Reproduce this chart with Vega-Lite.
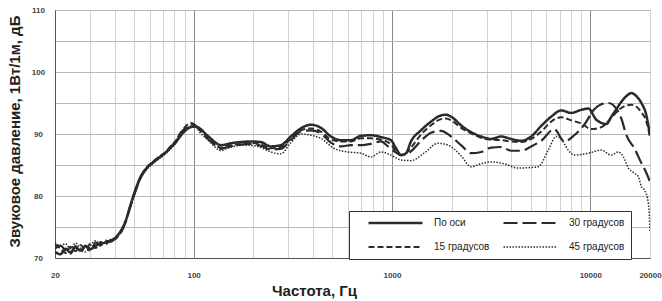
{
  "$schema": "https://vega.github.io/schema/vega-lite/v6.json",
  "width": 595,
  "height": 248,
  "autosize": {"type": "none"},
  "padding": {"left": 55, "top": 10, "right": 12, "bottom": 43},
  "background": "white",
  "config": {"font": "Liberation Sans", "view": {"stroke": "#555", "strokeWidth": 1}},
  "datasets": {
    "curves": [
      {"f":20,"s":"По оси","db":71.0},{"f":21.3,"s":"По оси","db":70.6},{"f":22.6,"s":"По оси","db":71.5},{"f":23.9,"s":"По оси","db":70.9},{"f":25.4,"s":"По оси","db":71.7},{"f":26.9,"s":"По оси","db":71.2},{"f":28.5,"s":"По оси","db":71.9},{"f":30.2,"s":"По оси","db":71.4},{"f":32,"s":"По оси","db":72.0},{"f":33.9,"s":"По оси","db":72.3},{"f":35.9,"s":"По оси","db":72.5},{"f":38.1,"s":"По оси","db":72.8},{"f":40.4,"s":"По оси","db":73.3},{"f":42.8,"s":"По оси","db":74.3},{"f":45.4,"s":"По оси","db":76.0},{"f":48.1,"s":"По оси","db":78.6},{"f":50.9,"s":"По оси","db":81.0},{"f":54,"s":"По оси","db":83.1},{"f":57.2,"s":"По оси","db":84.3},{"f":60.6,"s":"По оси","db":85.1},{"f":64.3,"s":"По оси","db":85.8},{"f":68.1,"s":"По оси","db":86.4},{"f":72.2,"s":"По оси","db":87.0},{"f":76.5,"s":"По оси","db":87.8},{"f":81.1,"s":"По оси","db":88.6},{"f":85.9,"s":"По оси","db":89.7},{"f":91.1,"s":"По оси","db":90.6},{"f":96.6,"s":"По оси","db":91.1},{"f":102.4,"s":"По оси","db":91.2},{"f":108.5,"s":"По оси","db":90.8},{"f":115,"s":"По оси","db":90.0},{"f":121.9,"s":"По оси","db":89.3},{"f":129.1,"s":"По оси","db":88.6},{"f":136.9,"s":"По оси","db":88.2},{"f":145.1,"s":"По оси","db":88.3},{"f":153.7,"s":"По оси","db":88.5},{"f":172.7,"s":"По оси","db":88.7},{"f":194,"s":"По оси","db":88.8},{"f":218,"s":"По оси","db":88.7},{"f":245,"s":"По оси","db":88.0},{"f":275,"s":"По оси","db":88.2},{"f":309,"s":"По оси","db":89.6},{"f":347,"s":"По оси","db":90.9},{"f":390,"s":"По оси","db":91.5},{"f":438,"s":"По оси","db":91.0},{"f":492,"s":"По оси","db":89.6},{"f":553,"s":"По оси","db":89.0},{"f":621,"s":"По оси","db":89.0},{"f":697,"s":"По оси","db":89.7},{"f":783,"s":"По оси","db":89.8},{"f":880,"s":"По оси","db":89.5},{"f":988,"s":"По оси","db":89.0},{"f":1048,"s":"По оси","db":87.7},{"f":1110,"s":"По оси","db":86.6},{"f":1177,"s":"По оси","db":86.9},{"f":1247,"s":"По оси","db":88.8},{"f":1401,"s":"По оси","db":90.6},{"f":1574,"s":"По оси","db":92.0},{"f":1768,"s":"По оси","db":93.0},{"f":1874,"s":"По оси","db":93.1},{"f":1986,"s":"По оси","db":92.8},{"f":2231,"s":"По оси","db":91.4},{"f":2506,"s":"По оси","db":90.3},{"f":2815,"s":"По оси","db":89.6},{"f":3162,"s":"По оси","db":89.2},{"f":3552,"s":"По оси","db":89.6},{"f":3990,"s":"По оси","db":89.2},{"f":4483,"s":"По оси","db":88.9},{"f":5035,"s":"По оси","db":89.6},{"f":5656,"s":"По оси","db":91.3},{"f":6353,"s":"По оси","db":92.8},{"f":7137,"s":"По оси","db":93.8},{"f":8017,"s":"По оси","db":93.4},{"f":9006,"s":"По оси","db":93.9},{"f":9770,"s":"По оси","db":94.1},{"f":10722,"s":"По оси","db":92.3},{"f":11365,"s":"По оси","db":91.8},{"f":12043,"s":"По оси","db":91.6},{"f":12766,"s":"По оси","db":92.8},{"f":13530,"s":"По оси","db":94.0},{"f":14340,"s":"По оси","db":95.2},{"f":15196,"s":"По оси","db":96.1},{"f":16110,"s":"По оси","db":96.6},{"f":17077,"s":"По оси","db":96.1},{"f":18100,"s":"По оси","db":95.0},{"f":19180,"s":"По оси","db":93.0},{"f":20000,"s":"По оси","db":89.8},

      {"f":20,"s":"15 градусов","db":72.2},{"f":21.3,"s":"15 градусов","db":71.5},{"f":22.6,"s":"15 градусов","db":70.8},{"f":23.9,"s":"15 градусов","db":71.8},{"f":25.4,"s":"15 градусов","db":71.1},{"f":26.9,"s":"15 градусов","db":72.1},{"f":28.5,"s":"15 градусов","db":71.4},{"f":30.2,"s":"15 градусов","db":72.3},{"f":32,"s":"15 градусов","db":71.6},{"f":33.9,"s":"15 градусов","db":72.6},{"f":35.9,"s":"15 градусов","db":72.2},{"f":38.1,"s":"15 градусов","db":72.9},{"f":40.4,"s":"15 градусов","db":73.1},{"f":42.8,"s":"15 градусов","db":74.2},{"f":45.4,"s":"15 градусов","db":75.9},{"f":48.1,"s":"15 градусов","db":78.5},{"f":50.9,"s":"15 градусов","db":81.0},{"f":54,"s":"15 градусов","db":83.0},{"f":57.2,"s":"15 градусов","db":84.4},{"f":60.6,"s":"15 градусов","db":85.2},{"f":64.3,"s":"15 градусов","db":85.9},{"f":68.1,"s":"15 градусов","db":86.5},{"f":72.2,"s":"15 градусов","db":87.1},{"f":76.5,"s":"15 градусов","db":88.0},{"f":81.1,"s":"15 градусов","db":88.9},{"f":85.9,"s":"15 градусов","db":90.2},{"f":91.1,"s":"15 градусов","db":91.2},{"f":96.6,"s":"15 градусов","db":91.8},{"f":102.4,"s":"15 градусов","db":91.4},{"f":108.5,"s":"15 градусов","db":90.6},{"f":115,"s":"15 градусов","db":89.7},{"f":121.9,"s":"15 градусов","db":89.0},{"f":129.1,"s":"15 градусов","db":88.2},{"f":136.9,"s":"15 градусов","db":87.8},{"f":145.1,"s":"15 градусов","db":88.0},{"f":153.7,"s":"15 градусов","db":88.2},{"f":172.7,"s":"15 градусов","db":88.4},{"f":194,"s":"15 градусов","db":88.6},{"f":218,"s":"15 градусов","db":88.3},{"f":245,"s":"15 градусов","db":87.7},{"f":275,"s":"15 градусов","db":87.9},{"f":309,"s":"15 градусов","db":89.2},{"f":347,"s":"15 градусов","db":90.6},{"f":390,"s":"15 градусов","db":90.9},{"f":438,"s":"15 градусов","db":90.4},{"f":492,"s":"15 градусов","db":89.1},{"f":553,"s":"15 градусов","db":88.8},{"f":621,"s":"15 градусов","db":88.8},{"f":697,"s":"15 градусов","db":89.3},{"f":783,"s":"15 градусов","db":89.3},{"f":880,"s":"15 градусов","db":89.1},{"f":988,"s":"15 градусов","db":88.3},{"f":1048,"s":"15 градусов","db":87.3},{"f":1110,"s":"15 градусов","db":86.6},{"f":1177,"s":"15 градусов","db":86.9},{"f":1247,"s":"15 градусов","db":87.8},{"f":1401,"s":"15 градусов","db":89.9},{"f":1574,"s":"15 градусов","db":91.4},{"f":1768,"s":"15 градусов","db":92.4},{"f":1874,"s":"15 градусов","db":92.5},{"f":1986,"s":"15 градусов","db":92.2},{"f":2231,"s":"15 градусов","db":91.0},{"f":2506,"s":"15 градусов","db":90.1},{"f":2815,"s":"15 градусов","db":89.4},{"f":3162,"s":"15 градусов","db":89.1},{"f":3552,"s":"15 градусов","db":89.0},{"f":3990,"s":"15 градусов","db":88.8},{"f":4483,"s":"15 градусов","db":88.7},{"f":5035,"s":"15 градусов","db":89.2},{"f":5656,"s":"15 градусов","db":90.4},{"f":6353,"s":"15 градусов","db":92.0},{"f":7137,"s":"15 градусов","db":92.7},{"f":8017,"s":"15 градусов","db":92.2},{"f":9006,"s":"15 градусов","db":91.7},{"f":10116,"s":"15 градусов","db":90.8},{"f":11365,"s":"15 градусов","db":91.1},{"f":12766,"s":"15 градусов","db":92.6},{"f":13530,"s":"15 градусов","db":93.5},{"f":14340,"s":"15 градусов","db":94.2},{"f":15196,"s":"15 градусов","db":94.6},{"f":16110,"s":"15 градусов","db":94.7},{"f":17077,"s":"15 градусов","db":94.4},{"f":18100,"s":"15 градусов","db":93.5},{"f":19180,"s":"15 градусов","db":92.0},{"f":20000,"s":"15 градусов","db":89.5},

      {"f":20,"s":"30 градусов","db":71.5},{"f":21.3,"s":"30 градусов","db":72.0},{"f":22.6,"s":"30 градусов","db":71.2},{"f":23.9,"s":"30 градусов","db":70.7},{"f":25.4,"s":"30 градусов","db":71.9},{"f":26.9,"s":"30 градусов","db":70.9},{"f":28.5,"s":"30 градусов","db":72.0},{"f":30.2,"s":"30 градусов","db":71.1},{"f":32,"s":"30 градусов","db":72.5},{"f":33.9,"s":"30 градусов","db":72.0},{"f":35.9,"s":"30 градусов","db":72.8},{"f":38.1,"s":"30 градусов","db":72.6},{"f":40.4,"s":"30 градусов","db":73.2},{"f":42.8,"s":"30 градусов","db":74.0},{"f":45.4,"s":"30 градусов","db":75.8},{"f":48.1,"s":"30 градусов","db":78.4},{"f":50.9,"s":"30 градусов","db":80.8},{"f":54,"s":"30 градусов","db":82.9},{"f":57.2,"s":"30 градусов","db":84.2},{"f":60.6,"s":"30 градусов","db":85.0},{"f":64.3,"s":"30 градусов","db":85.7},{"f":68.1,"s":"30 градусов","db":86.3},{"f":72.2,"s":"30 градусов","db":87.0},{"f":76.5,"s":"30 градусов","db":87.9},{"f":81.1,"s":"30 градусов","db":88.8},{"f":85.9,"s":"30 градусов","db":90.1},{"f":91.1,"s":"30 градусов","db":91.0},{"f":96.6,"s":"30 градусов","db":91.6},{"f":102.4,"s":"30 градусов","db":91.3},{"f":108.5,"s":"30 градусов","db":90.5},{"f":115,"s":"30 градусов","db":89.5},{"f":121.9,"s":"30 градусов","db":88.8},{"f":129.1,"s":"30 градусов","db":88.1},{"f":136.9,"s":"30 градусов","db":87.6},{"f":145.1,"s":"30 градусов","db":87.8},{"f":153.7,"s":"30 градусов","db":88.0},{"f":172.7,"s":"30 градусов","db":88.3},{"f":194,"s":"30 градусов","db":88.4},{"f":218,"s":"30 градусов","db":88.1},{"f":245,"s":"30 градусов","db":87.5},{"f":275,"s":"30 градусов","db":87.6},{"f":309,"s":"30 градусов","db":89.0},{"f":347,"s":"30 градусов","db":90.4},{"f":390,"s":"30 градусов","db":90.6},{"f":438,"s":"30 градусов","db":90.1},{"f":492,"s":"30 градусов","db":88.6},{"f":553,"s":"30 градусов","db":88.0},{"f":621,"s":"30 градусов","db":88.2},{"f":697,"s":"30 градусов","db":88.2},{"f":783,"s":"30 градусов","db":88.4},{"f":880,"s":"30 градусов","db":88.8},{"f":955,"s":"30 градусов","db":88.0},{"f":1048,"s":"30 градусов","db":87.0},{"f":1110,"s":"30 градусов","db":86.6},{"f":1177,"s":"30 градусов","db":86.7},{"f":1247,"s":"30 градусов","db":87.2},{"f":1401,"s":"30 градусов","db":88.9},{"f":1574,"s":"30 градусов","db":90.2},{"f":1768,"s":"30 градусов","db":90.5},{"f":1986,"s":"30 градусов","db":89.6},{"f":2231,"s":"30 градусов","db":88.2},{"f":2506,"s":"30 градусов","db":86.9},{"f":2815,"s":"30 градусов","db":87.1},{"f":3162,"s":"30 градусов","db":87.8},{"f":3552,"s":"30 градусов","db":87.9},{"f":3990,"s":"30 градусов","db":87.3},{"f":4483,"s":"30 градусов","db":87.3},{"f":5035,"s":"30 градусов","db":88.0},{"f":5656,"s":"30 градусов","db":88.9},{"f":6579,"s":"30 градусов","db":90.8},{"f":7390,"s":"30 градусов","db":88.8},{"f":8302,"s":"30 градусов","db":89.8},{"f":9326,"s":"30 градусов","db":91.5},{"f":10476,"s":"30 градусов","db":94.0},{"f":11365,"s":"30 градусов","db":94.8},{"f":12326,"s":"30 градусов","db":95.0},{"f":13530,"s":"30 градусов","db":94.1},{"f":14340,"s":"30 градусов","db":92.5},{"f":15196,"s":"30 градусов","db":89.8},{"f":16681,"s":"30 градусов","db":87.7},{"f":18100,"s":"30 градусов","db":85.3},{"f":19180,"s":"30 градусов","db":83.7},{"f":20000,"s":"30 градусов","db":82.3},

      {"f":20,"s":"45 градусов","db":72.5},{"f":21.3,"s":"45 градусов","db":72.0},{"f":22.6,"s":"45 градусов","db":72.3},{"f":23.9,"s":"45 градусов","db":71.5},{"f":25.4,"s":"45 градусов","db":72.4},{"f":26.9,"s":"45 градусов","db":71.6},{"f":28.5,"s":"45 градусов","db":71.0},{"f":30.2,"s":"45 градусов","db":72.0},{"f":32,"s":"45 градусов","db":72.8},{"f":33.9,"s":"45 градусов","db":72.2},{"f":35.9,"s":"45 градусов","db":72.6},{"f":38.1,"s":"45 градусов","db":73.0},{"f":40.4,"s":"45 градусов","db":73.2},{"f":42.8,"s":"45 градусов","db":74.0},{"f":45.4,"s":"45 градусов","db":75.7},{"f":48.1,"s":"45 градусов","db":78.3},{"f":50.9,"s":"45 градусов","db":80.7},{"f":54,"s":"45 градусов","db":82.8},{"f":57.2,"s":"45 градусов","db":84.1},{"f":60.6,"s":"45 градусов","db":84.9},{"f":64.3,"s":"45 градусов","db":85.6},{"f":68.1,"s":"45 градусов","db":86.2},{"f":72.2,"s":"45 градусов","db":86.8},{"f":76.5,"s":"45 градусов","db":87.6},{"f":81.1,"s":"45 градусов","db":88.5},{"f":85.9,"s":"45 градусов","db":89.7},{"f":91.1,"s":"45 градусов","db":90.6},{"f":96.6,"s":"45 градусов","db":91.3},{"f":102.4,"s":"45 градусов","db":91.1},{"f":108.5,"s":"45 градусов","db":90.1},{"f":115,"s":"45 градусов","db":89.4},{"f":121.9,"s":"45 градусов","db":88.6},{"f":129.1,"s":"45 градусов","db":87.8},{"f":136.9,"s":"45 градусов","db":87.3},{"f":145.1,"s":"45 градусов","db":87.6},{"f":159,"s":"45 градусов","db":88.0},{"f":183,"s":"45 градусов","db":88.2},{"f":210,"s":"45 градусов","db":88.0},{"f":245,"s":"45 градусов","db":87.1},{"f":275,"s":"45 градусов","db":86.8},{"f":309,"s":"45 градусов","db":88.6},{"f":347,"s":"45 градусов","db":90.0},{"f":390,"s":"45 градусов","db":89.8},{"f":438,"s":"45 градусов","db":89.3},{"f":509,"s":"45 градусов","db":87.7},{"f":600,"s":"45 градусов","db":87.1},{"f":697,"s":"45 градусов","db":86.9},{"f":783,"s":"45 градусов","db":86.3},{"f":880,"s":"45 градусов","db":87.1},{"f":988,"s":"45 градусов","db":86.6},{"f":1110,"s":"45 градусов","db":85.8},{"f":1247,"s":"45 градусов","db":85.7},{"f":1451,"s":"45 градусов","db":86.9},{"f":1708,"s":"45 градусов","db":88.5},{"f":1918,"s":"45 градусов","db":88.2},{"f":2231,"s":"45 градусов","db":86.5},{"f":2506,"s":"45 градусов","db":84.7},{"f":2815,"s":"45 градусов","db":85.2},{"f":3162,"s":"45 градусов","db":85.5},{"f":3679,"s":"45 градусов","db":85.2},{"f":4329,"s":"45 градусов","db":84.5},{"f":5035,"s":"45 градусов","db":84.6},{"f":5463,"s":"45 градусов","db":84.7},{"f":6137,"s":"45 градусов","db":87.4},{"f":6734,"s":"45 градусов","db":89.6},{"f":7137,"s":"45 градусов","db":89.2},{"f":7740,"s":"45 градусов","db":87.4},{"f":8302,"s":"45 градусов","db":86.6},{"f":9770,"s":"45 градусов","db":86.9},{"f":11365,"s":"45 градусов","db":87.4},{"f":12766,"s":"45 градусов","db":86.6},{"f":13848,"s":"45 градусов","db":87.1},{"f":14678,"s":"45 градусов","db":86.3},{"f":15561,"s":"45 градусов","db":84.5},{"f":16490,"s":"45 градусов","db":83.8},{"f":17479,"s":"45 градусов","db":83.1},{"f":18100,"s":"45 градусов","db":81.5},{"f":18738,"s":"45 градусов","db":81.0},{"f":19630,"s":"45 градусов","db":78.8},{"f":19860,"s":"45 градусов","db":76.7},{"f":20000,"s":"45 градусов","db":74.2}
    ]
  },
  "data": {"name": "curves"},
  "mark": {"type": "line", "color": "#2b2b2b", "interpolate": "monotone", "strokeCap": "butt", "clip": true},
  "encoding": {
    "x": {
      "field": "f", "type": "quantitative",
      "scale": {"type": "log", "domain": [20, 20000], "nice": false},
      "axis": {
        "title": "Частота, Гц",
        "values": [20,30,40,50,60,70,80,90,100,200,300,400,500,600,700,800,900,1000,2000,3000,4000,5000,6000,7000,8000,9000,10000,20000],
        "labelExpr": "indexof([20,100,1000,10000,20000], datum.value) >= 0 ? format(datum.value, 'd') : ''",
        "grid": true,
        "gridColor": {"condition": {"test": "datum.value == 100 || datum.value == 1000 || datum.value == 10000", "value": "#8a8a8a"}, "value": "#d2d2d2"},
        "gridWidth": 1,
        "ticks": false, "tickSize": 0,
        "labelPadding": 13, "labelFontSize": 8, "labelFontWeight": "bold", "labelColor": "#444",
        "labelOverlap": false, "labelBound": false, "labelFlush": false,
        "domainColor": "#555",
        "titleFontSize": 15, "titleFontWeight": "bold", "titleColor": "#222",
        "titleX": 259, "titleY": 25, "titleAlign": "center", "titleBaseline": "top"
      }
    },
    "y": {
      "field": "db", "type": "quantitative",
      "scale": {"domain": [70, 110], "nice": false, "zero": false},
      "axis": {
        "title": "Звуковое давление, 1Вт/1м, дБ",
        "values": [70,75,80,85,90,95,100,105,110],
        "labelExpr": "datum.value % 10 == 0 ? datum.label : ''",
        "grid": true, "gridColor": "#b8b8b8",
        "ticks": false, "tickSize": 0,
        "labelPadding": 17, "labelAlign": "center", "labelBaseline": "middle",
        "labelFontSize": 8, "labelFontWeight": "bold", "labelColor": "#444",
        "labelOverlap": false, "labelBound": false, "labelFlush": false,
        "domainColor": "#555",
        "titleFontSize": 15, "titleFontWeight": "bold", "titleColor": "#222",
        "titleX": -41, "titleY": 121, "titleAlign": "center", "titleBaseline": "middle", "titleAngle": -90
      }
    },
    "strokeDash": {
      "field": "s", "type": "nominal",
      "scale": {"domain": ["По оси", "30 градусов", "15 градусов", "45 градусов"], "range": [[1, 0], [14, 5], [6, 3], [1.5, 1.5]]},
      "legend": {"title": null, "orient": "none", "legendX": 294, "legendY": 201, "columns": 2, "direction": "horizontal",
        "symbolType": "stroke", "symbolSize": 2916, "symbolStrokeColor": "#2b2b2b", "clipHeight": 12,
        "rowPadding": 12, "columnPadding": -19, "padding": 6, "symbolOffset": 12, "labelOffset": 10,
        "labelExpr": "datum.label + '          '",
        "labelFontSize": 10, "labelColor": "#222", "labelLimit": 200, "strokeColor": "#333", "fillColor": "white"}
    },
    "strokeWidth": {
      "field": "s", "type": "nominal",
      "scale": {"type": "ordinal", "domain": ["По оси", "30 градусов", "15 градусов", "45 градусов"], "range": [2.5, 2.2, 2, 1.5]},
      "legend": {"title": null, "orient": "none", "legendX": 294, "legendY": 201, "columns": 2, "direction": "horizontal",
        "symbolType": "stroke", "symbolSize": 2916, "symbolStrokeColor": "#2b2b2b", "clipHeight": 12,
        "rowPadding": 12, "columnPadding": -19, "padding": 6, "symbolOffset": 12, "labelOffset": 10,
        "labelExpr": "datum.label + '          '",
        "labelFontSize": 10, "labelColor": "#222", "labelLimit": 200, "strokeColor": "#333", "fillColor": "white"}
    }
  }
}
